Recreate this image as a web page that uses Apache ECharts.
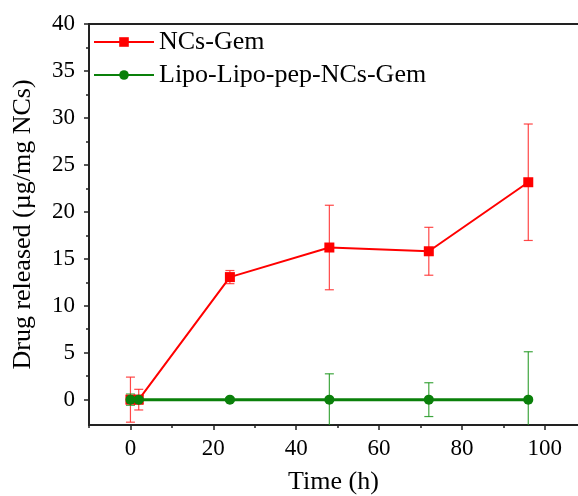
<!DOCTYPE html>
<html>
<head>
<meta charset="utf-8">
<script src="https://cdn.jsdelivr.net/npm/echarts@6/dist/echarts.min.js"></script>
<style>html,body{margin:0;padding:0;background:#fff}#c{width:578px;height:496px}</style>
</head>
<body>
<div id="c"></div>
<script>
const times = [0, 2, 24, 48, 72, 96];
const ncsGem = [0, 0, 13.05, 16.2, 15.8, 23.15];
const ncsGemErr = [2.4, 1.1, 0.7, 4.5, 2.55, 6.2];
const lipo = [0, 0, 0, 0, 0, 0];
const lipoErr = [0.6, 0.45, 0.2, 2.75, 1.8, 5.1];
const yMajor = [0, 5, 10, 15, 20, 25, 30, 35, 40];
const yMinor = [2.5, 7.5, 12.5, 17.5, 22.5, 27.5, 32.5, 37.5];
const xMajor = [0, 20, 40, 60, 80, 100];
const xMinor = [-10, 10, 30, 50, 70, 90];

const font = 'Liberation Serif';
const axisColor = '#222';

function errData(xs, ys, es) {
  return xs.map((x, i) => [x, ys[i] - es[i], ys[i] + es[i]]);
}
function errRender(color) {
  return function (params, api) {
    const x = api.value(0), lo = api.value(1), hi = api.value(2);
    const p1 = api.coord([x, hi]), p2 = api.coord([x, lo]);
    const w = 4.5;
    const st = { stroke: color, lineWidth: 1.2 };
    return {
      type: 'group',
      children: [
        { type: 'line', shape: { x1: p1[0], y1: p1[1], x2: p2[0], y2: p2[1] }, style: st },
        { type: 'line', shape: { x1: p1[0] - w, y1: p1[1], x2: p1[0] + w, y2: p1[1] }, style: st },
        { type: 'line', shape: { x1: p2[0] - w, y1: p2[1], x2: p2[0] + w, y2: p2[1] }, style: st }
      ]
    };
  };
}

const chart = echarts.init(document.getElementById('c'));
chart.setOption({
  animation: false,
  grid: { left: 89, right: 0, top: 24, bottom: 71, containLabel: false, outerBoundsMode: 'none' },
  legend: {
    orient: 'vertical', left: 93, top: 29, padding: 0, itemWidth: 60, itemHeight: 12, itemGap: 7,
    textStyle: { fontFamily: font, fontSize: 26, color: '#000' },
    data: ['NCs-Gem', 'Lipo-Lipo-pep-NCs-Gem']
  },
  xAxis: [
    {
      type: 'value', min: -10, max: 108, position: 'bottom',
      name: 'Time (h)', nameLocation: 'middle', nameGap: 44,
      nameTextStyle: { fontFamily: font, fontSize: 26, color: '#000' },
      axisLine: { show: true, onZero: false, lineStyle: { color: axisColor, width: 2 } },
      axisTick: { show: true, length: 5, customValues: xMajor, lineStyle: { color: axisColor, width: 1.5 } },
      axisLabel: { customValues: xMajor, fontFamily: font, fontSize: 23, color: '#000', margin: 12 },
      splitLine: { show: false }
    },
    {
      type: 'value', min: -10, max: 108, position: 'bottom',
      axisLine: { show: false, onZero: false },
      axisTick: { show: true, length: 3, customValues: xMinor, lineStyle: { color: axisColor, width: 1.5 } },
      axisLabel: { show: false },
      splitLine: { show: false }
    },
    {
      type: 'value', min: -10, max: 108, position: 'top',
      axisLine: { show: true, onZero: false, lineStyle: { color: axisColor, width: 2 } },
      axisTick: { show: false }, axisLabel: { show: false }, splitLine: { show: false }
    }
  ],
  yAxis: [
    {
      type: 'value', min: -2.7, max: 40, position: 'left',
      name: 'Drug released (µg/mg NCs)', nameLocation: 'middle', nameGap: 53,
      nameTextStyle: { fontFamily: font, fontSize: 26, color: '#000' },
      axisLine: { show: true, onZero: false, lineStyle: { color: axisColor, width: 2 } },
      axisTick: { show: true, length: 5, customValues: yMajor, lineStyle: { color: axisColor, width: 1.5 } },
      axisLabel: { customValues: yMajor, fontFamily: font, fontSize: 23, color: '#000', margin: 14 },
      splitLine: { show: false }
    },
    {
      type: 'value', min: -2.7, max: 40, position: 'left',
      axisLine: { show: false, onZero: false },
      axisTick: { show: true, length: 3, customValues: yMinor, lineStyle: { color: axisColor, width: 1.5 } },
      axisLabel: { show: false },
      splitLine: { show: false }
    }
  ],
  series: [
    {
      type: 'custom', name: 'errRed', xAxisIndex: 0, yAxisIndex: 0, clip: true, z: 1,
      renderItem: errRender('rgba(255,40,40,0.85)'),
      data: errData(times, ncsGem, ncsGemErr), encode: { x: 0, y: [1, 2] }, silent: true
    },
    {
      type: 'custom', name: 'errGreen', xAxisIndex: 0, yAxisIndex: 0, clip: true, z: 1,
      renderItem: errRender('rgba(30,150,30,0.85)'),
      data: errData(times, lipo, lipoErr), encode: { x: 0, y: [1, 2] }, silent: true
    },
    {
      type: 'line', name: 'NCs-Gem', xAxisIndex: 0, yAxisIndex: 0, z: 3,
      data: times.map((t, i) => [t, ncsGem[i]]),
      symbol: 'rect', symbolSize: 10,
      lineStyle: { color: '#ff0000', width: 2 },
      itemStyle: { color: '#ff0000' }
    },
    {
      type: 'line', name: 'Lipo-Lipo-pep-NCs-Gem', xAxisIndex: 0, yAxisIndex: 0, z: 4,
      data: times.map((t, i) => [t, lipo[i]]),
      symbol: 'circle', symbolSize: 10,
      lineStyle: { color: '#0a800a', width: 3 },
      itemStyle: { color: '#0a800a' }
    }
  ]
});
</script>
</body>
</html>
